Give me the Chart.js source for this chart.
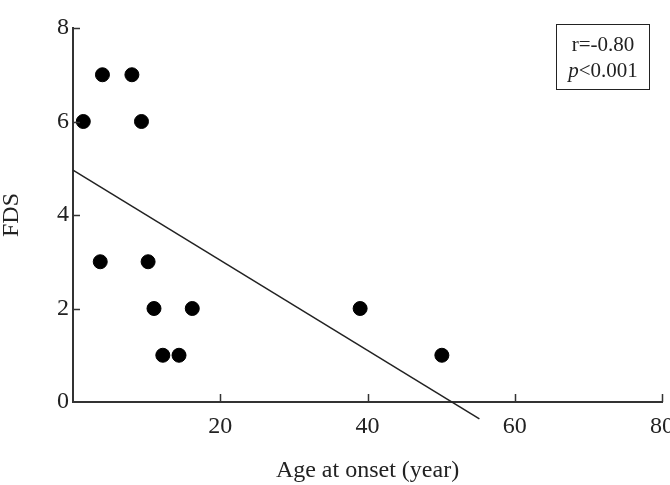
<!DOCTYPE html>
<html>
<head>
<meta charset="utf-8">
<script src="https://cdn.jsdelivr.net/npm/chart.js@4/dist/chart.umd.min.js"></script>
<style>
  body { margin: 0; background: #fff; }
  #wrap { position: relative; width: 670px; height: 485px; }
  #stats {
    position: absolute; left: 556px; top: 24px; width: 94px; height: 66px;
    border: 1.5px solid #222; box-sizing: border-box;
    font-family: "Liberation Serif", serif; font-size: 21px; color: #222;
    text-align: center; line-height: 26px; padding-top: 6px;
  }
</style>
</head>
<body>
<div id="wrap">
  <canvas id="c" width="670" height="485"></canvas>
  <div id="stats">r=-0.80<br><i>p</i>&lt;0.001</div>
</div>
<script>
// 資料
const ageAtOnset = [1.4, 4, 8, 9.3, 3.7, 10.2, 11, 16.2, 12.2, 14.4, 39, 50.1];
const fds = [6, 7, 7, 6, 3, 3, 2, 2, 1, 1, 2, 1];
// 回歸線兩端
const fitX = [0, 55.2];
const fitY = [4.96, -0.36];
const xTicks = [0, 20, 40, 60, 80];
const yTicks = [0, 2, 4, 6, 8];

const axisColor = '#333';
const textColor = '#222';
const serif = '"Liberation Serif", "Times New Roman", serif';

// 向內的刻度
const innerTicks = {
  id: 'innerTicks',
  afterDraw(chart) {
    const { ctx, scales: { x, y } } = chart;
    ctx.save();
    ctx.strokeStyle = axisColor;
    ctx.lineWidth = 1.5;
    ctx.beginPath();
    xTicks.filter(v => v > 0).forEach(v => {
      const px = Math.round(x.getPixelForValue(v)) + 0.5;
      ctx.moveTo(px, y.bottom);
      ctx.lineTo(px, y.bottom - 8);
    });
    yTicks.filter(v => v > 0).forEach(v => {
      const py = Math.round(y.getPixelForValue(v)) + 0.5;
      ctx.moveTo(x.left, py);
      ctx.lineTo(x.left + 7, py);
    });
    ctx.stroke();
    ctx.restore();
  }
};

new Chart(document.getElementById('c'), {
  type: 'scatter',
  data: {
    datasets: [
      {
        data: ageAtOnset.map((a, i) => ({ x: a, y: fds[i] })),
        backgroundColor: '#000',
        borderColor: '#000',
        pointRadius: 7,
        pointHoverRadius: 7
      },
      {
        data: fitX.map((a, i) => ({ x: a, y: fitY[i] })),
        showLine: true,
        borderColor: '#222',
        borderWidth: 1.5,
        pointRadius: 0,
        clip: false
      }
    ]
  },
  options: {
    responsive: false,
    animation: false,
    layout: { padding: { top: 28, right: 8, left: 0, bottom: 0 } },
    plugins: { legend: { display: false }, tooltip: { enabled: false } },
    scales: {
      x: {
        type: 'linear',
        min: 0, max: 80,
        afterBuildTicks: s => { s.ticks = xTicks.map(v => ({ value: v })); },
        afterFit: s => { s.height = 83; s.paddingLeft = 0; s.paddingRight = 0; },
        grid: { display: false, drawTicks: false },
        border: { display: true, color: axisColor, width: 2 },
        ticks: {
          padding: 10,
          color: textColor,
          font: { family: serif, size: 24 },
          callback: v => (v === 0 ? '' : v)
        },
        title: {
          display: true,
          text: 'Age at onset (year)',
          color: textColor,
          font: { family: serif, size: 24, lineHeight: 1 },
          padding: { top: 0, bottom: 2 }
        }
      },
      y: {
        min: 0, max: 8,
        afterBuildTicks: s => { s.ticks = yTicks.map(v => ({ value: v })); },
        afterFit: s => { s.width = 73; s.paddingTop = 0; s.paddingBottom = 0; },
        grid: { display: false, drawTicks: false },
        border: { display: true, color: axisColor, width: 2 },
        ticks: {
          padding: 4,
          color: textColor,
          font: { family: serif, size: 24 }
        },
        title: {
          display: true,
          text: 'FDS',
          color: textColor,
          font: { family: serif, size: 24, lineHeight: 1 },
          padding: { top: 0, bottom: 0 }
        }
      }
    }
  },
  plugins: [innerTicks]
});
</script>
</body>
</html>
